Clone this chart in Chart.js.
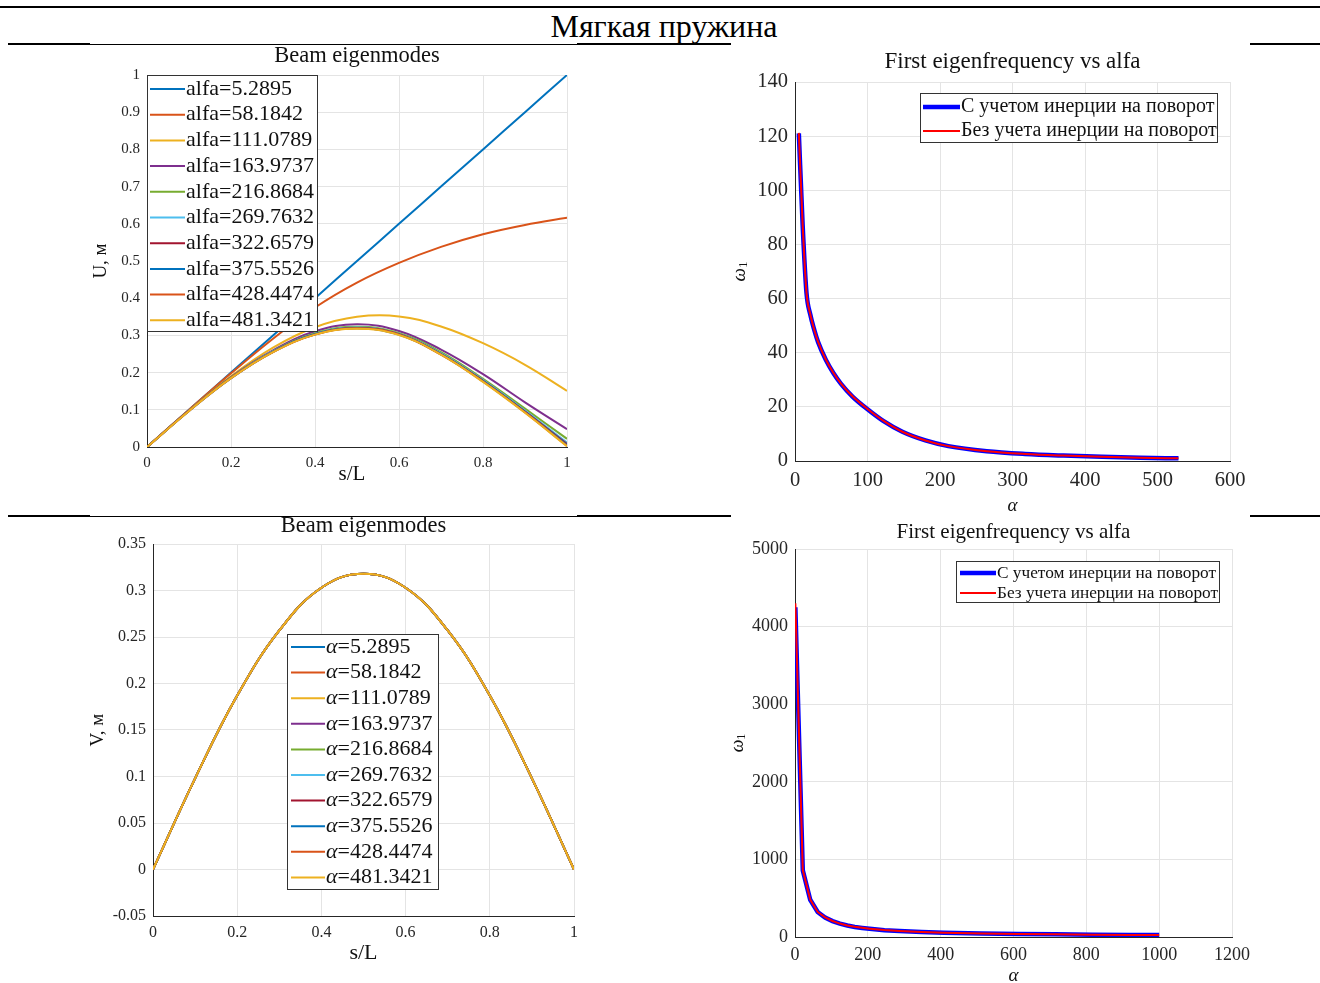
<!DOCTYPE html>
<html lang="ru">
<head>
<meta charset="utf-8">
<title>Мягкая пружина</title>
<script src="https://cdn.jsdelivr.net/npm/chart.js@4.4.1/dist/chart.umd.min.js"></script>
<style>
  html, body { margin: 0; padding: 0; background: #fff; }
  body { width: 1320px; height: 983px; position: relative; overflow: hidden; }
  .rule { position: absolute; background: #000; }
  .heading {
    position: absolute; left: 4px; top: 8px; width: 1320px;
    text-align: center; font: 32px "Liberation Serif", "Times New Roman", serif;
    line-height: 36px; color: #000;
  }
  canvas { position: absolute; }
</style>
</head>
<body>
<div class="rule" style="left:0;top:6px;width:1320px;height:2px"></div>
<div class="heading">Мягкая пружина</div>
<div class="rule" style="left:8px;top:43px;width:82px;height:2px"></div>
<div class="rule" style="left:90px;top:44px;width:487px;height:1px"></div>
<div class="rule" style="left:577px;top:43px;width:154px;height:2px"></div>
<div class="rule" style="left:1250px;top:43px;width:70px;height:2px"></div>
<div class="rule" style="left:8px;top:515px;width:82px;height:2px"></div>
<div class="rule" style="left:90px;top:516px;width:487px;height:1px"></div>
<div class="rule" style="left:577px;top:515px;width:154px;height:2px"></div>
<div class="rule" style="left:1250px;top:515px;width:70px;height:2px"></div>

<canvas id="grafico-u"></canvas>
<canvas id="grafico-freq"></canvas>
<canvas id="grafico-v"></canvas>
<canvas id="grafico-freq2"></canvas>

<script>
// s/L sample points along the beam
const S = [0, 0.1, 0.2, 0.3, 0.4, 0.5, 0.6, 0.7, 0.8, 0.9, 1];
const ALFA = [5.2895, 58.1842, 111.0789, 163.9737, 216.8684, 269.7632, 322.6579, 375.5526, 428.4474, 481.3421];

// U(s) for each alfa
const U_MODE_1 = [0, 0.1, 0.2, 0.3, 0.4, 0.5, 0.6, 0.7, 0.8, 0.9, 1];
const U_MODE_2 = [0, 0.1, 0.198, 0.291, 0.375, 0.442, 0.495, 0.538, 0.572, 0.597, 0.616];
const U_MODE_3 = [0, 0.098, 0.19, 0.267, 0.322, 0.35, 0.351, 0.324, 0.279, 0.221, 0.151];
const U_MODE_4 = [0, 0.098, 0.188, 0.26, 0.311, 0.33, 0.312, 0.262, 0.196, 0.12, 0.048];
const U_MODE_5 = [0, 0.098, 0.187, 0.258, 0.306, 0.323, 0.306, 0.255, 0.183, 0.103, 0.022];
const U_MODE_6 = [0, 0.098, 0.186, 0.257, 0.304, 0.321, 0.304, 0.252, 0.18, 0.098, 0.012];
const U_MODE_7 = [0, 0.098, 0.186, 0.256, 0.303, 0.32, 0.303, 0.25, 0.178, 0.095, 0.008];
const U_MODE_8 = [0, 0.097, 0.185, 0.256, 0.303, 0.319, 0.302, 0.249, 0.177, 0.094, 0.005];
const U_MODE_9 = [0, 0.097, 0.185, 0.255, 0.302, 0.319, 0.302, 0.248, 0.176, 0.093, 0.003];
const U_MODE_10 = [0, 0.097, 0.185, 0.255, 0.302, 0.318, 0.301, 0.248, 0.175, 0.092, 0.002];
const U_MODES = [U_MODE_1, U_MODE_2, U_MODE_3, U_MODE_4, U_MODE_5, U_MODE_6, U_MODE_7, U_MODE_8, U_MODE_9, U_MODE_10];

// V(s) is the same for every alfa
const V_MODE = [0, 0.098, 0.187, 0.257, 0.303, 0.318, 0.303, 0.257, 0.187, 0.098, 0];

// first eigenfrequency, small alfa range
const FREQ_ALFA = [5.29, 10.58, 15.87, 21.16, 26.45, 31.74, 42.32, 52.9, 63.47, 79.34, 100.5, 121.66, 148.1, 179.84, 211.58, 264.48, 317.37, 370.27, 423.16, 476.06, 528.95];
const FREQ_WITH = [121, 87, 62, 54, 48.5, 44, 37.5, 32.5, 28.5, 23.8, 19, 14.8, 10.8, 7.6, 5.5, 3.6, 2.6, 2.0, 1.55, 1.2, 1.0];
const FREQ_WITHOUT = [121.2, 87.3, 62.2, 54.1, 48.6, 44.1, 37.6, 32.6, 28.6, 23.9, 19.1, 14.9, 10.8, 7.6, 5.5, 3.6, 2.6, 2.0, 1.55, 1.2, 1.0];

// first eigenfrequency, wide alfa range
const FREQ2_ALFA = [1, 21.4, 41.8, 62.2, 82.6, 103, 123.3, 143.7, 164.1, 184.5, 204.9, 245.7, 286.4, 347.6, 408.8, 510.7, 612.6, 714.6, 816.5, 918.5, 1000];
const FREQ2_WITH = [4250, 858, 480, 322, 252, 205, 172, 148, 130, 117, 106, 88, 76, 64, 56, 46, 39, 34, 30, 27, 25];
const FREQ2_WITHOUT = [4300, 862, 482, 323, 253, 206, 173, 149, 131, 118, 107, 89, 77, 65, 56, 46, 39, 34, 30, 27, 25];

// tick labels
const S_TICKS = [0, 0.2, 0.4, 0.6, 0.8, 1];
const U_TICKS = [0, 0.1, 0.2, 0.3, 0.4, 0.5, 0.6, 0.7, 0.8, 0.9, 1];
const V_TICKS = [-0.05, 0, 0.05, 0.1, 0.15, 0.2, 0.25, 0.3, 0.35];
const FREQ_X_TICKS = [0, 100, 200, 300, 400, 500, 600];
const FREQ_Y_TICKS = [0, 20, 40, 60, 80, 100, 120, 140];
const FREQ2_X_TICKS = [0, 200, 400, 600, 800, 1000, 1200];
const FREQ2_Y_TICKS = [0, 1000, 2000, 3000, 4000, 5000];

const COLORS = ['#0072BD', '#D95319', '#EDB120', '#7E2F8E', '#77AC30', '#4DBEEE', '#A2142F'];
const SERIF = '"Liberation Serif", "Times New Roman", serif';
const AXIS = '#262626';
const GRID = '#e4e4e4';
const M = { left: 100, top: 45, right: 45, bottom: 62 };

function part(text, font, dy) {
    return { text: text, font: font, dy: dy || 0 };
}

function drawParts(ctx, parts, x, y, angle, align) {
    ctx.save();
    ctx.translate(x, y);
    ctx.rotate(angle || 0);
    ctx.textAlign = 'left';
    ctx.textBaseline = 'middle';
    let total = 0;
    parts.forEach(p => { ctx.font = p.font; total += ctx.measureText(p.text).width; });
    let cx = align === 'left' ? 0 : -total / 2;
    parts.forEach(p => {
        ctx.font = p.font;
        ctx.fillText(p.text, cx, p.dy);
        cx += ctx.measureText(p.text).width;
    });
    ctx.restore();
}

// titles, axis labels and the boxed legend
const decor = {
    id: 'decor',
    afterDraw(chart, args, o) {
        const ctx = chart.ctx;
        const a = chart.chartArea;
        const cx = (a.left + a.right) / 2;
        const cy = (a.top + a.bottom) / 2;
        ctx.save();
        ctx.fillStyle = '#111';
        drawParts(ctx, [part(o.title, o.titleFont)], cx, a.top + o.titleDy);
        drawParts(ctx, o.xTitle, cx + (o.xTitleDx || 0), a.bottom + o.xTitleDy);
        drawParts(ctx, o.yTitle, a.left + o.yTitleDx, cy, -Math.PI / 2);

        const lg = o.legend;
        const bx = a.left + lg.x;
        const by = a.top + lg.y;
        ctx.fillStyle = '#fff';
        ctx.fillRect(bx, by, lg.w, lg.h);
        ctx.strokeStyle = '#333';
        ctx.lineWidth = 1;
        ctx.strokeRect(bx + 0.5, by + 0.5, lg.w - 1, lg.h - 1);
        chart.data.datasets.forEach((ds, i) => {
            const y = by + lg.first + i * lg.row;
            ctx.strokeStyle = ds.borderColor;
            ctx.lineWidth = ds.borderWidth;
            ctx.beginPath();
            ctx.moveTo(bx + lg.inset, y);
            ctx.lineTo(bx + lg.inset + lg.line, y);
            ctx.stroke();
            ctx.fillStyle = '#111';
            drawParts(ctx, lg.labels[i], bx + lg.inset + lg.line + 1, y, 0, 'left');
        });
        ctx.restore();
    }
};

function axis(key, min, max, ticks, size, fit) {
    return {
        type: 'linear',
        min: min,
        max: max,
        afterBuildTicks: s => { s.ticks = ticks.map(v => ({ value: v })); },
        afterFit: s => { if (key === 'x') s.height = fit; else s.width = fit; },
        grid: { color: GRID, lineWidth: 1, drawTicks: false },
        border: { color: AXIS, width: 1 },
        ticks: {
            color: AXIS,
            font: { family: SERIF, size: size },
            padding: 7,
            maxRotation: 0,
            autoSkip: false,
            callback: v => String(+v.toFixed(4))
        }
    };
}

function mount(id, f) {
    const c = document.getElementById(id);
    c.width = f.r - f.l + M.left + M.right;
    c.height = f.b - f.t + M.top + M.bottom;
    c.style.left = (f.l - M.left) + 'px';
    c.style.top = (f.t - M.top) + 'px';
    return c;
}

function points(xs, ys) {
    return xs.map((x, i) => ({ x: x, y: ys[i] }));
}

function build(id, frame, datasets, scales, decorOpts) {
    return new Chart(mount(id, frame), {
        type: 'line',
        data: { datasets: datasets },
        options: {
            responsive: false,
            animation: false,
            devicePixelRatio: 1,
            events: [],
            layout: { padding: { left: 0, top: M.top, right: M.right, bottom: 0 } },
            scales: scales,
            plugins: {
                legend: { display: false },
                tooltip: { enabled: false },
                decor: decorOpts
            }
        },
        plugins: [decor]
    });
}

// later curves are painted over earlier ones
const modeSets = rows => rows.map((u, i) => ({
    label: 'alfa=' + ALFA[i].toFixed(4),
    data: points(S, u),
    borderColor: COLORS[i % COLORS.length],
    borderWidth: 2,
    pointRadius: 0,
    tension: 0.4,
    fill: false,
    order: rows.length - i
}));

const freqSets = (xs, withRot, withoutRot, smooth) => [
    { label: 'С учетом инерции на поворот', data: points(xs, withRot), borderColor: '#0000ff', borderWidth: 4.5, pointRadius: 0, cubicInterpolationMode: smooth ? 'monotone' : 'default', tension: 0, order: 2 },
    { label: 'Без учета инерции на поворот', data: points(xs, withoutRot), borderColor: '#ff0000', borderWidth: 2, pointRadius: 0, cubicInterpolationMode: smooth ? 'monotone' : 'default', tension: 0, order: 1 }
];

// U modes
build('grafico-u', { l: 147, t: 75, r: 567, b: 447 }, modeSets(U_MODES), {
    x: axis('x', 0, 1, S_TICKS, 15, M.bottom),
    y: axis('y', 0, 1, U_TICKS, 15, M.left)
}, {
    title: 'Beam eigenmodes', titleFont: '22.5px ' + SERIF, titleDy: -19,
    xTitle: [part('s/L', '21px ' + SERIF)], xTitleDx: -5, xTitleDy: 27,
    yTitle: [part('U, м', '19px ' + SERIF)], yTitleDx: -46,
    legend: {
        x: 0, y: 0, w: 171, h: 257, first: 14, row: 25.7, inset: 3, line: 35,
        labels: ALFA.map(a => [part('alfa=' + a.toFixed(4), '22px ' + SERIF)])
    }
});

// first eigenfrequency, 0..600
build('grafico-freq', { l: 795, t: 82, r: 1230, b: 461 }, freqSets(FREQ_ALFA, FREQ_WITH, FREQ_WITHOUT, true), {
    x: axis('x', 0, 600, FREQ_X_TICKS, 20.5, M.bottom),
    y: axis('y', 0, 140, FREQ_Y_TICKS, 20.5, M.left)
}, {
    title: 'First eigenfrequency vs alfa', titleFont: '23px ' + SERIF, titleDy: -20,
    xTitle: [part('α', 'italic 19px ' + SERIF)], xTitleDy: 45,
    yTitle: [part('ω', 'italic 19px ' + SERIF), part('1', '13px ' + SERIF, 4)], yTitleDx: -55,
    legend: {
        x: 125, y: 11, w: 298, h: 50, first: 14, row: 24, inset: 3, line: 37,
        labels: [[part('С учетом инерции на поворот', '20px ' + SERIF)], [part('Без учета инерции на поворот', '20px ' + SERIF)]]
    }
});

// V modes
build('grafico-v', { l: 153, t: 544, r: 574, b: 916 }, modeSets(U_MODES.map(() => V_MODE)), {
    x: axis('x', 0, 1, S_TICKS, 16, M.bottom),
    y: axis('y', -0.05, 0.35, V_TICKS, 16, M.left)
}, {
    title: 'Beam eigenmodes', titleFont: '22.5px ' + SERIF, titleDy: -18,
    xTitle: [part('s/L', '22px ' + SERIF)], xTitleDy: 37,
    yTitle: [part('V, м', '19px ' + SERIF)], yTitleDx: -55,
    legend: {
        x: 134, y: 90, w: 152, h: 256, first: 13, row: 25.6, inset: 4, line: 34,
        labels: ALFA.map(a => [part('α', 'italic 22px ' + SERIF), part('=' + a.toFixed(4), '22px ' + SERIF)])
    }
});

// first eigenfrequency, 0..1200
build('grafico-freq2', { l: 795, t: 549, r: 1232, b: 937 }, freqSets(FREQ2_ALFA, FREQ2_WITH, FREQ2_WITHOUT, false), {
    x: axis('x', 0, 1200, FREQ2_X_TICKS, 18, M.bottom),
    y: axis('y', 0, 5000, FREQ2_Y_TICKS, 18, M.left)
}, {
    title: 'First eigenfrequency vs alfa', titleFont: '21px ' + SERIF, titleDy: -17,
    xTitle: [part('α', 'italic 19px ' + SERIF)], xTitleDy: 39,
    yTitle: [part('ω', 'italic 18px ' + SERIF), part('1', '12px ' + SERIF, 4)], yTitleDx: -57,
    legend: {
        x: 161, y: 12, w: 264, h: 42, first: 12, row: 20, inset: 4, line: 36,
        labels: [[part('С учетом инерции на поворот', '17.3px ' + SERIF)], [part('Без учета инерции на поворот', '17.3px ' + SERIF)]]
    }
});
</script>
</body>
</html>
